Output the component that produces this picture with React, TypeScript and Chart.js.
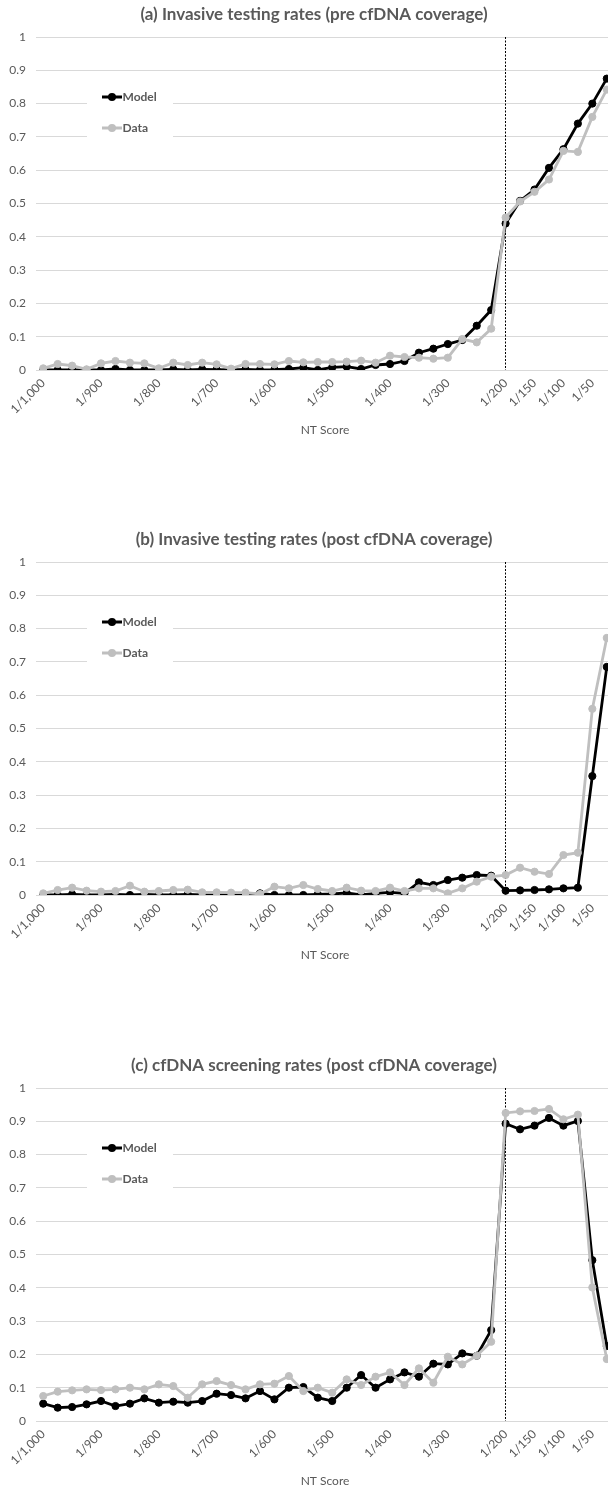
import React, { useEffect, useRef } from 'react';
import { Chart, registerables } from 'chart.js';

Chart.register(...registerables);

// ---------- data ----------
const ntCategories = [
  '1/1,000', '1/975', '1/950', '1/925', '1/900', '1/875', '1/850', '1/825',
  '1/800', '1/775', '1/750', '1/725', '1/700', '1/675', '1/650', '1/625',
  '1/600', '1/575', '1/550', '1/525', '1/500', '1/475', '1/450', '1/425',
  '1/400', '1/375', '1/350', '1/325', '1/300', '1/275', '1/250', '1/225',
  '1/200', '1/175', '1/150', '1/125', '1/100', '1/75', '1/50', '1/25',
];
const shownTickLabels = [
  '1/1,000', '1/900', '1/800', '1/700', '1/600', '1/500', '1/400', '1/300',
  '1/200', '1/150', '1/100', '1/50',
];
const cutoffCategory = '1/200';
const xAxisTitle = 'NT Score';
const seriesNames = ['Model', 'Data'];

const titleA = '(a) Invasive testing rates (pre cfDNA coverage)';
const modelA = [
  0, 0, 0, 0, 0, 0.003, 0, 0, 0, 0.002, 0, 0.002, 0.001, 0, 0.002, 0,
  0.001, 0.003, 0.007, 0, 0.008, 0.01, 0.003, 0.015, 0.018, 0.027, 0.052, 0.064,
  0.078, 0.09, 0.133, 0.18, 0.44, 0.508, 0.542, 0.607, 0.663, 0.74, 0.8, 0.875,
];
const dataA = [
  0.005, 0.018, 0.013, 0.002, 0.02, 0.027, 0.022, 0.02, 0.005, 0.022, 0.015, 0.022,
  0.017, 0.004, 0.018, 0.018, 0.017, 0.027, 0.023, 0.024, 0.024, 0.025, 0.028, 0.022,
  0.043, 0.039, 0.037, 0.034, 0.037, 0.093, 0.083, 0.124, 0.458, 0.506, 0.535, 0.572,
  0.658, 0.655, 0.76, 0.842,
];

const titleB = '(b) Invasive testing rates (post cfDNA coverage)';
const modelB = [
  0, 0, 0.002, 0, 0, 0.002, 0, 0.002, 0, 0, 0.002, 0, 0, 0, 0.002, 0.005,
  0, 0, 0, 0.002, 0.003, 0.006, 0, 0.005, 0.008, 0.005, 0.038, 0.03, 0.045, 0.052,
  0.06, 0.058, 0.013, 0.014, 0.015, 0.017, 0.02, 0.022, 0.357, 0.685,
];
const dataB = [
  0.005, 0.015, 0.022, 0.013, 0.01, 0.012, 0.028, 0.01, 0.012, 0.015, 0.016, 0.008,
  0.008, 0.007, 0.007, 0.003, 0.025, 0.02, 0.03, 0.018, 0.012, 0.022, 0.013, 0.012,
  0.022, 0.012, 0.02, 0.02, 0.005, 0.02, 0.04, 0.055, 0.06, 0.082, 0.07, 0.063,
  0.12, 0.127, 0.559, 0.772,
];

const titleC = '(c) cfDNA screening rates (post cfDNA coverage)';
const modelC = [
  0.052, 0.04, 0.042, 0.05, 0.06, 0.045, 0.052, 0.068, 0.055, 0.058, 0.055, 0.06,
  0.082, 0.078, 0.068, 0.09, 0.065, 0.1, 0.102, 0.07, 0.06, 0.1, 0.138, 0.1,
  0.125, 0.146, 0.133, 0.172, 0.17, 0.203, 0.196, 0.273, 0.893, 0.876, 0.887, 0.91,
  0.887, 0.901, 0.483, 0.225,
];
const dataC = [
  0.075, 0.088, 0.092, 0.095, 0.093, 0.095, 0.1, 0.095, 0.11, 0.105, 0.07, 0.11,
  0.12, 0.108, 0.095, 0.11, 0.112, 0.135, 0.09, 0.1, 0.085, 0.125, 0.108, 0.133,
  0.146, 0.108, 0.158, 0.115, 0.193, 0.17, 0.196, 0.238, 0.925, 0.93, 0.931, 0.937,
  0.906, 0.92, 0.401, 0.186,
];

// ---------- style ----------
const FONT = 'Lato, "Open Sans", "DejaVu Sans", sans-serif';
const TEXT = '#595959';
const GRID = '#D9D9D9';
const MODEL_COLOR = '#000000';
const DATA_COLOR = '#BFBFBF';

type PanelProps = { title: string; model: number[]; data: number[] };

function Panel({ title, model, data }: PanelProps) {
  const ref = useRef<HTMLCanvasElement | null>(null);

  useEffect(() => {
    const canvas = ref.current;
    if (!canvas) return;

    const cutoffPlugin = {
      id: 'cutoffLine',
      beforeDatasetsDraw(chart: any) {
        const idx = ntCategories.indexOf(cutoffCategory);
        const x = Math.round(chart.scales.x.getPixelForValue(idx)) - 0.5;
        const { top, bottom } = chart.chartArea;
        const ctx = chart.ctx;
        ctx.save();
        ctx.strokeStyle = '#000';
        ctx.lineWidth = 1;
        ctx.setLineDash([2, 1.5]);
        ctx.beginPath();
        ctx.moveTo(x, top);
        ctx.lineTo(x, bottom);
        ctx.stroke();
        ctx.restore();
      },
    };

    const insetLegend = {
      id: 'insetLegend',
      afterDraw(chart: any) {
        const ctx = chart.ctx;
        const top = chart.chartArea.top;
        ctx.save();
        ctx.fillStyle = '#ffffff';
        ctx.fillRect(87, top + 40, 86, 70);
        chart.data.datasets.forEach((ds: any, i: number) => {
          const y = top + 60 + i * 31;
          ctx.strokeStyle = ds.borderColor;
          ctx.lineWidth = 3;
          ctx.beginPath();
          ctx.moveTo(102, y);
          ctx.lineTo(122, y);
          ctx.stroke();
          ctx.fillStyle = ds.borderColor;
          ctx.beginPath();
          ctx.arc(112, y, 4, 0, Math.PI * 2);
          ctx.fill();
          ctx.fillStyle = TEXT;
          ctx.font = `bold 12px ${FONT}`;
          ctx.textAlign = 'left';
          ctx.textBaseline = 'middle';
          ctx.fillText(ds.label, 122.5, y + 0.5);
        });
        ctx.restore();
      },
    };

    const chart = new Chart(canvas, {
      type: 'line',
      data: {
        labels: ntCategories,
        datasets: [
          {
            label: seriesNames[0],
            data: model,
            borderColor: MODEL_COLOR,
            backgroundColor: MODEL_COLOR,
            pointBackgroundColor: MODEL_COLOR,
            pointBorderColor: MODEL_COLOR,
            borderWidth: 2.8,
            pointRadius: 3.6,
            pointBorderWidth: 1,
            tension: 0,
            order: 2,
          },
          {
            label: seriesNames[1],
            data: data,
            borderColor: DATA_COLOR,
            backgroundColor: DATA_COLOR,
            pointBackgroundColor: DATA_COLOR,
            pointBorderColor: DATA_COLOR,
            borderWidth: 2.8,
            pointRadius: 3.6,
            pointBorderWidth: 1,
            tension: 0,
            order: 1,
          },
        ],
      },
      options: {
        animation: false,
        responsive: false,
        devicePixelRatio: 1,
        events: [],
        layout: { padding: { top: 0, right: 0, bottom: 85, left: 0 } },
        plugins: {
          legend: { display: false },
          tooltip: { enabled: false },
          title: {
            display: true,
            text: title,
            color: TEXT,
            font: { family: FONT, size: 17, weight: 'bold' },
            padding: { top: 4.3, bottom: 12.3 },
          },
        },
        scales: {
          x: {
            type: 'category',
            offset: true,
            grid: { display: false, drawTicks: false },
            border: { display: false },
            ticks: {
              autoSkip: false,
              maxRotation: 45,
              minRotation: 45,
              padding: 6,
              color: TEXT,
              font: { family: FONT, size: 12 },
              callback: (_v: any, index: number) => {
                const l = ntCategories[index];
                return shownTickLabels.includes(l) ? l : '';
              },
            },
            title: {
              display: true,
              text: xAxisTitle,
              color: TEXT,
              font: { family: FONT, size: 12 },
              padding: { top: 0, bottom: 3 },
            },
            afterFit: (scale: any) => {
              scale.height = 70;
              scale.paddingLeft = 0;
              scale.paddingRight = 14;
            },
          },
          y: {
            min: 0,
            max: 1,
            ticks: {
              stepSize: 0.1,
              padding: 10,
              color: TEXT,
              font: { family: FONT, size: 12 },
              callback: (v: any) => String(Math.round(Number(v) * 10) / 10),
            },
            grid: { color: GRID, drawTicks: false, lineWidth: 1 },
            border: { display: false },
            afterFit: (scale: any) => {
              scale.width = 36;
            },
          },
        },
      },
      plugins: [cutoffPlugin, insetLegend],
    } as any);

    return () => chart.destroy();
  }, [title, model, data]);

  return <canvas ref={ref} width={628} height={525} style={{ display: 'block' }} />;
}

export default function App() {
  const panels = [
    { title: titleA, model: modelA, data: dataA, top: 0 },
    { title: titleB, model: modelB, data: dataB, top: 525 },
    { title: titleC, model: modelC, data: dataC, top: 1051 },
  ];
  return (
    <div
      style={{
        position: 'fixed',
        left: 0,
        top: 0,
        width: 608,
        height: 1491,
        overflow: 'hidden',
        background: '#ffffff',
      }}
    >
      {panels.map((p) => (
        <div key={p.title} style={{ position: 'absolute', left: 0, top: p.top }}>
          <Panel title={p.title} model={p.model} data={p.data} />
        </div>
      ))}
    </div>
  );
}
